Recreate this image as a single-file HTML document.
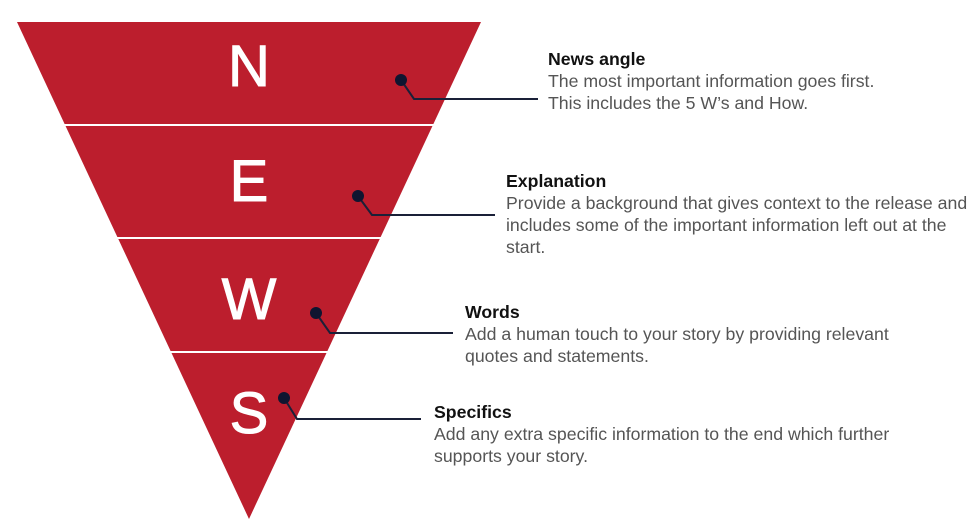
<!DOCTYPE html>
<html><head><meta charset="utf-8"><style>
html,body{margin:0;padding:0;background:#fff;width:975px;height:522px;overflow:hidden;font-family:"Liberation Sans",sans-serif}
.t{position:absolute;font-size:17.7px;line-height:22px;color:#555;white-space:nowrap}
.t b{color:#111;font-weight:bold;display:block}
</style></head><body>
<svg width="975" height="522" style="position:absolute;left:0;top:0">
<polygon points="17,22 481,22 249,519" fill="#BC1E2D"/>
<g stroke="#fff" stroke-width="2">
<line x1="60" y1="125" x2="440" y2="125"/>
<line x1="110" y1="238" x2="390" y2="238"/>
<line x1="160" y1="352" x2="340" y2="352"/>
</g>
<g fill="#fff" stroke="#fff" stroke-width="1" font-family="Liberation Sans, sans-serif" font-size="58" text-anchor="middle">
<text x="249" y="86">N</text>
<text x="249" y="201">E</text>
<text x="249" y="319">W</text>
<text x="249" y="433">S</text>
</g>
<g stroke="#1a2038" stroke-width="2" fill="none">
<polyline points="401,80 414,99 538,99"/>
<polyline points="358,196 372,215 495,215"/>
<polyline points="316,313 330,333 453,333"/>
<polyline points="284,398 297,419 421,419"/>
</g>
<g fill="#0f1530">
<circle cx="401" cy="80" r="6"/>
<circle cx="358" cy="196" r="6"/>
<circle cx="316" cy="313" r="6"/>
<circle cx="284" cy="398" r="6"/>
</g>
</svg>
<div class="t" style="left:548px;top:48px"><b>News angle</b>The most important information goes first.<br>This includes the 5 W’s and How.</div>
<div class="t" style="left:506px;top:170px"><b>Explanation</b>Provide a background that gives context to the release and<br>includes some of the important information left out at the<br>start.</div>
<div class="t" style="left:465px;top:301px"><b>Words</b>Add a human touch to your story by providing relevant<br>quotes and statements.</div>
<div class="t" style="left:434px;top:401px"><b>Specifics</b>Add any extra specific information to the end which further<br>supports your story.</div>
</body></html>
